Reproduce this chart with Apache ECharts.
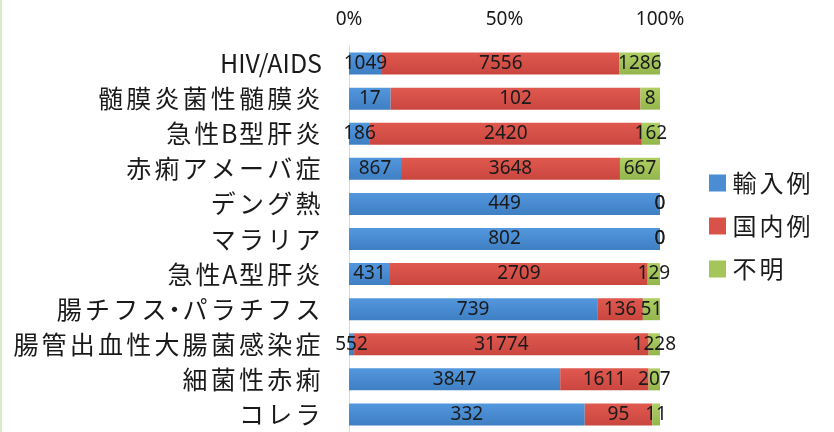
<!DOCTYPE html>
<html>
<head>
<meta charset="utf-8">
<script src="https://cdn.jsdelivr.net/npm/echarts@6/dist/echarts.min.js"></script>
<style>
html,body{margin:0;padding:0;background:#fff;}
#chart{width:834px;height:432px;}
</style>
</head>
<body>
<div id="chart"></div>
<script>
const categories = ['HIV/AIDS','髄膜炎菌性髄膜炎','急性B型肝炎','赤痢アメーバ症','デング熱','マラリア','急性A型肝炎','腸チフス・パラチフス','腸管出血性大腸菌感染症','細菌性赤痢','コレラ'];
const seriesNames = ['輸入例','国内例','不明'];
const imported = [1049,17,186,867,449,802,431,739,552,3847,332];
const domestic = [7556,102,2420,3648,0,0,2709,136,31774,1611,95];
const unknown = [1286,8,162,667,0,0,129,51,1228,207,11];
const tickLabels = ['0%','50%','100%'];

const raw = [imported, domestic, unknown];
const totals = categories.map((c,i)=>imported[i]+domestic[i]+unknown[i]);
const pct = raw.map(arr=>arr.map((v,i)=>v/totals[i]*100));

const colors = [
  {type:'linear',x:0,y:0,x2:0,y2:1,colorStops:[{offset:0,color:'#5397dc'},{offset:1,color:'#3f7fc4'}]},
  {type:'linear',x:0,y:0,x2:0,y2:1,colorStops:[{offset:0,color:'#e0594f'},{offset:1,color:'#c9463f'}]},
  {type:'linear',x:0,y:0,x2:0,y2:1,colorStops:[{offset:0,color:'#afcf64'},{offset:1,color:'#93b64c'}]}
];
const legendColors = ['#4a8dd3','#d9524a','#a4c55a'];

// split text into runs: wide (CJK) chars get a small side padding to mimic the original spacing
function spaced(str){
  let out = '', latin = '';
  for (const ch of str){
    if (ch.charCodeAt(0) > 0x2E80){
      if (latin){ out += '{l|' + latin + '}'; latin = ''; }
      if (ch === '・') out += '{d|' + ch + '}';
      else out += '{j|' + ch + '}';
    } else latin += ch;
  }
  if (latin) out += '{l|' + latin + '}';
  return out;
}

const JP = '"Noto Sans CJK JP", sans-serif';
const FONT = '"Noto Sans", "Noto Sans CJK JP", sans-serif';
const catRich = {
  j:{fontSize:25,fontFamily:JP,color:'#1a1a1a',padding:[0,1.6,0,1.6]},
  d:{fontSize:25,fontFamily:JP,color:'#1a1a1a',padding:[0,-6,0,-6]},
  l:{fontSize:25,fontFamily:JP,color:'#1a1a1a'}
};
const legRich = {
  j:{fontSize:24,fontFamily:JP,color:'#1a1a1a',padding:[0,1.5,0,1.5]},
  l:{fontSize:24,fontFamily:JP,color:'#1a1a1a'}
};

const chart = echarts.init(document.getElementById('chart'));
chart.setOption({
  animation:false,
  textStyle:{fontFamily:FONT},
  graphic:[{type:'rect',left:0,top:0,shape:{width:2,height:432},style:{fill:'#d6ebc6'}}],
  grid:{left:349,width:311,top:46,height:389.5,containLabel:false},
  legend:{
    orient:'vertical', left:704, top:166, icon:'rect', itemWidth:17, itemHeight:17, itemGap:19,
    formatter:(n)=>spaced(n),
    textStyle:{fontSize:24,color:'#1a1a1a',fontFamily:JP,rich:legRich},
    data:seriesNames.map((n,i)=>({name:n,itemStyle:{color:legendColors[i]}}))
  },
  xAxis:{
    type:'value', position:'top', min:0, max:100, interval:50,
    axisLine:{show:false}, axisTick:{show:false}, splitLine:{show:false},
    axisLabel:{fontSize:19,color:'#1a1a1a',margin:17,formatter:(v)=>tickLabels[v/50]}
  },
  yAxis:{
    type:'category', inverse:true, data:categories,
    axisLine:{show:true,lineStyle:{color:'#d9d9d9',width:1}}, axisTick:{show:false},
    axisLabel:{fontSize:25,color:'#1a1a1a',margin:27,fontFamily:JP,formatter:(v)=>spaced(v),rich:catRich}
  },
  series:seriesNames.map((n,si)=>({
    name:n, type:'bar', stack:'total', barWidth:22,
    itemStyle:{color:colors[si]},
    label:{show:true,position:'inside',fontSize:19,color:'#1a1a1a',
      formatter:(p)=>String(raw[si][p.dataIndex])},
    data:pct[si]
  }))
});
</script>
</body>
</html>
